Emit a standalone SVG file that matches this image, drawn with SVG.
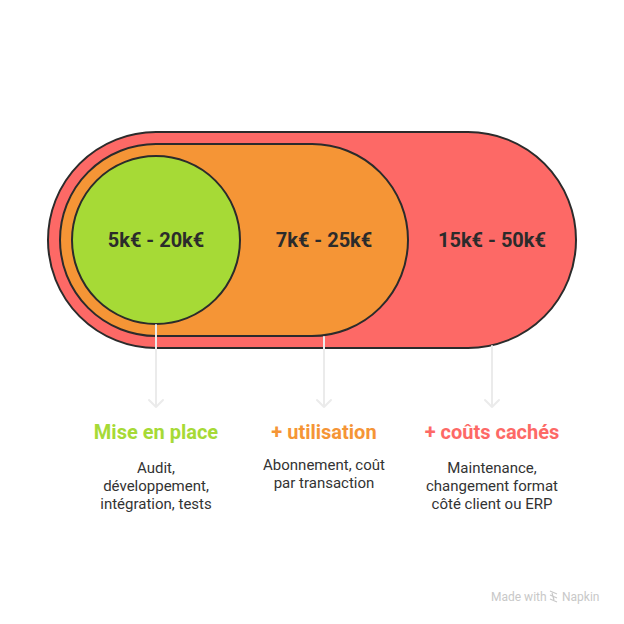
<svg xmlns="http://www.w3.org/2000/svg" width="624" height="624" viewBox="0 0 624 624">
<defs>
<style>
.shape{stroke:#2b2b2b;stroke-width:2}
.val{font-family:Roboto,"Liberation Sans",sans-serif;font-weight:700;font-size:20px;fill:#2b2b2b;text-anchor:middle}
.ttl{font-family:Roboto,"Liberation Sans",sans-serif;font-weight:700;font-size:20px;text-anchor:middle}
.desc{font-family:Roboto,"Liberation Sans",sans-serif;font-size:15px;fill:#333;text-anchor:middle}
.conn{stroke:#ebebeb;stroke-width:2;fill:none;stroke-linecap:round;stroke-linejoin:round}
.wm{font-family:Roboto,"Liberation Sans",sans-serif;font-size:12px;fill:#c8c8c8}
</style>
</defs>
<rect width="624" height="624" fill="#ffffff"/>
<g id="hidden">
<rect class="shape" x="48" y="132" width="528" height="216" rx="108" fill="#fd6966"/>
<text class="val" x="492" y="247">15k€ - 50k€</text>
</g>
<g id="usage">
<rect class="shape" x="60" y="144" width="348" height="192" rx="96" fill="#f59536"/>
<text class="val" x="324" y="247">7k€ - 25k€</text>
</g>
<g id="setup">
<circle class="shape" cx="156" cy="240" r="84" fill="#a6da36"/>
<text class="val" x="156" y="247">5k€ - 20k€</text>
</g>
<g id="connectors">
<path class="conn" d="M156 325V407M149 400L156 407L163 400"/>
<path class="conn" d="M324 337V407M317 400L324 407L331 400"/>
<path class="conn" d="M492 346V407M485 400L492 407L499 400"/>
</g>
<g id="label-setup">
<text class="ttl" x="156" y="439" fill="#a6da36">Mise en place</text>
<text class="desc" x="156" y="473">Audit,</text>
<text class="desc" x="156" y="491">développement,</text>
<text class="desc" x="156" y="509">intégration, tests</text>
</g>
<g id="label-usage">
<text class="ttl" x="324" y="439" fill="#f59536">+ utilisation</text>
<text class="desc" x="324" y="470">Abonnement, coût</text>
<text class="desc" x="324" y="488">par transaction</text>
</g>
<g id="label-hidden">
<text class="ttl" x="492" y="439" fill="#fd6966">+ coûts cachés</text>
<text class="desc" x="492" y="473">Maintenance,</text>
<text class="desc" x="492" y="491">changement format</text>
<text class="desc" x="492" y="509">côté client ou ERP</text>
</g>
<g id="watermark">
<text class="wm" x="491" y="601">Made with</text>
<path d="M550 591L557 594M550 595L557 598M550 599L557 602M552 593L554 600" stroke="#c8c8c8" stroke-width="1.2" fill="none"/>
<text class="wm" x="562" y="601">Napkin</text>
</g>
</svg>
